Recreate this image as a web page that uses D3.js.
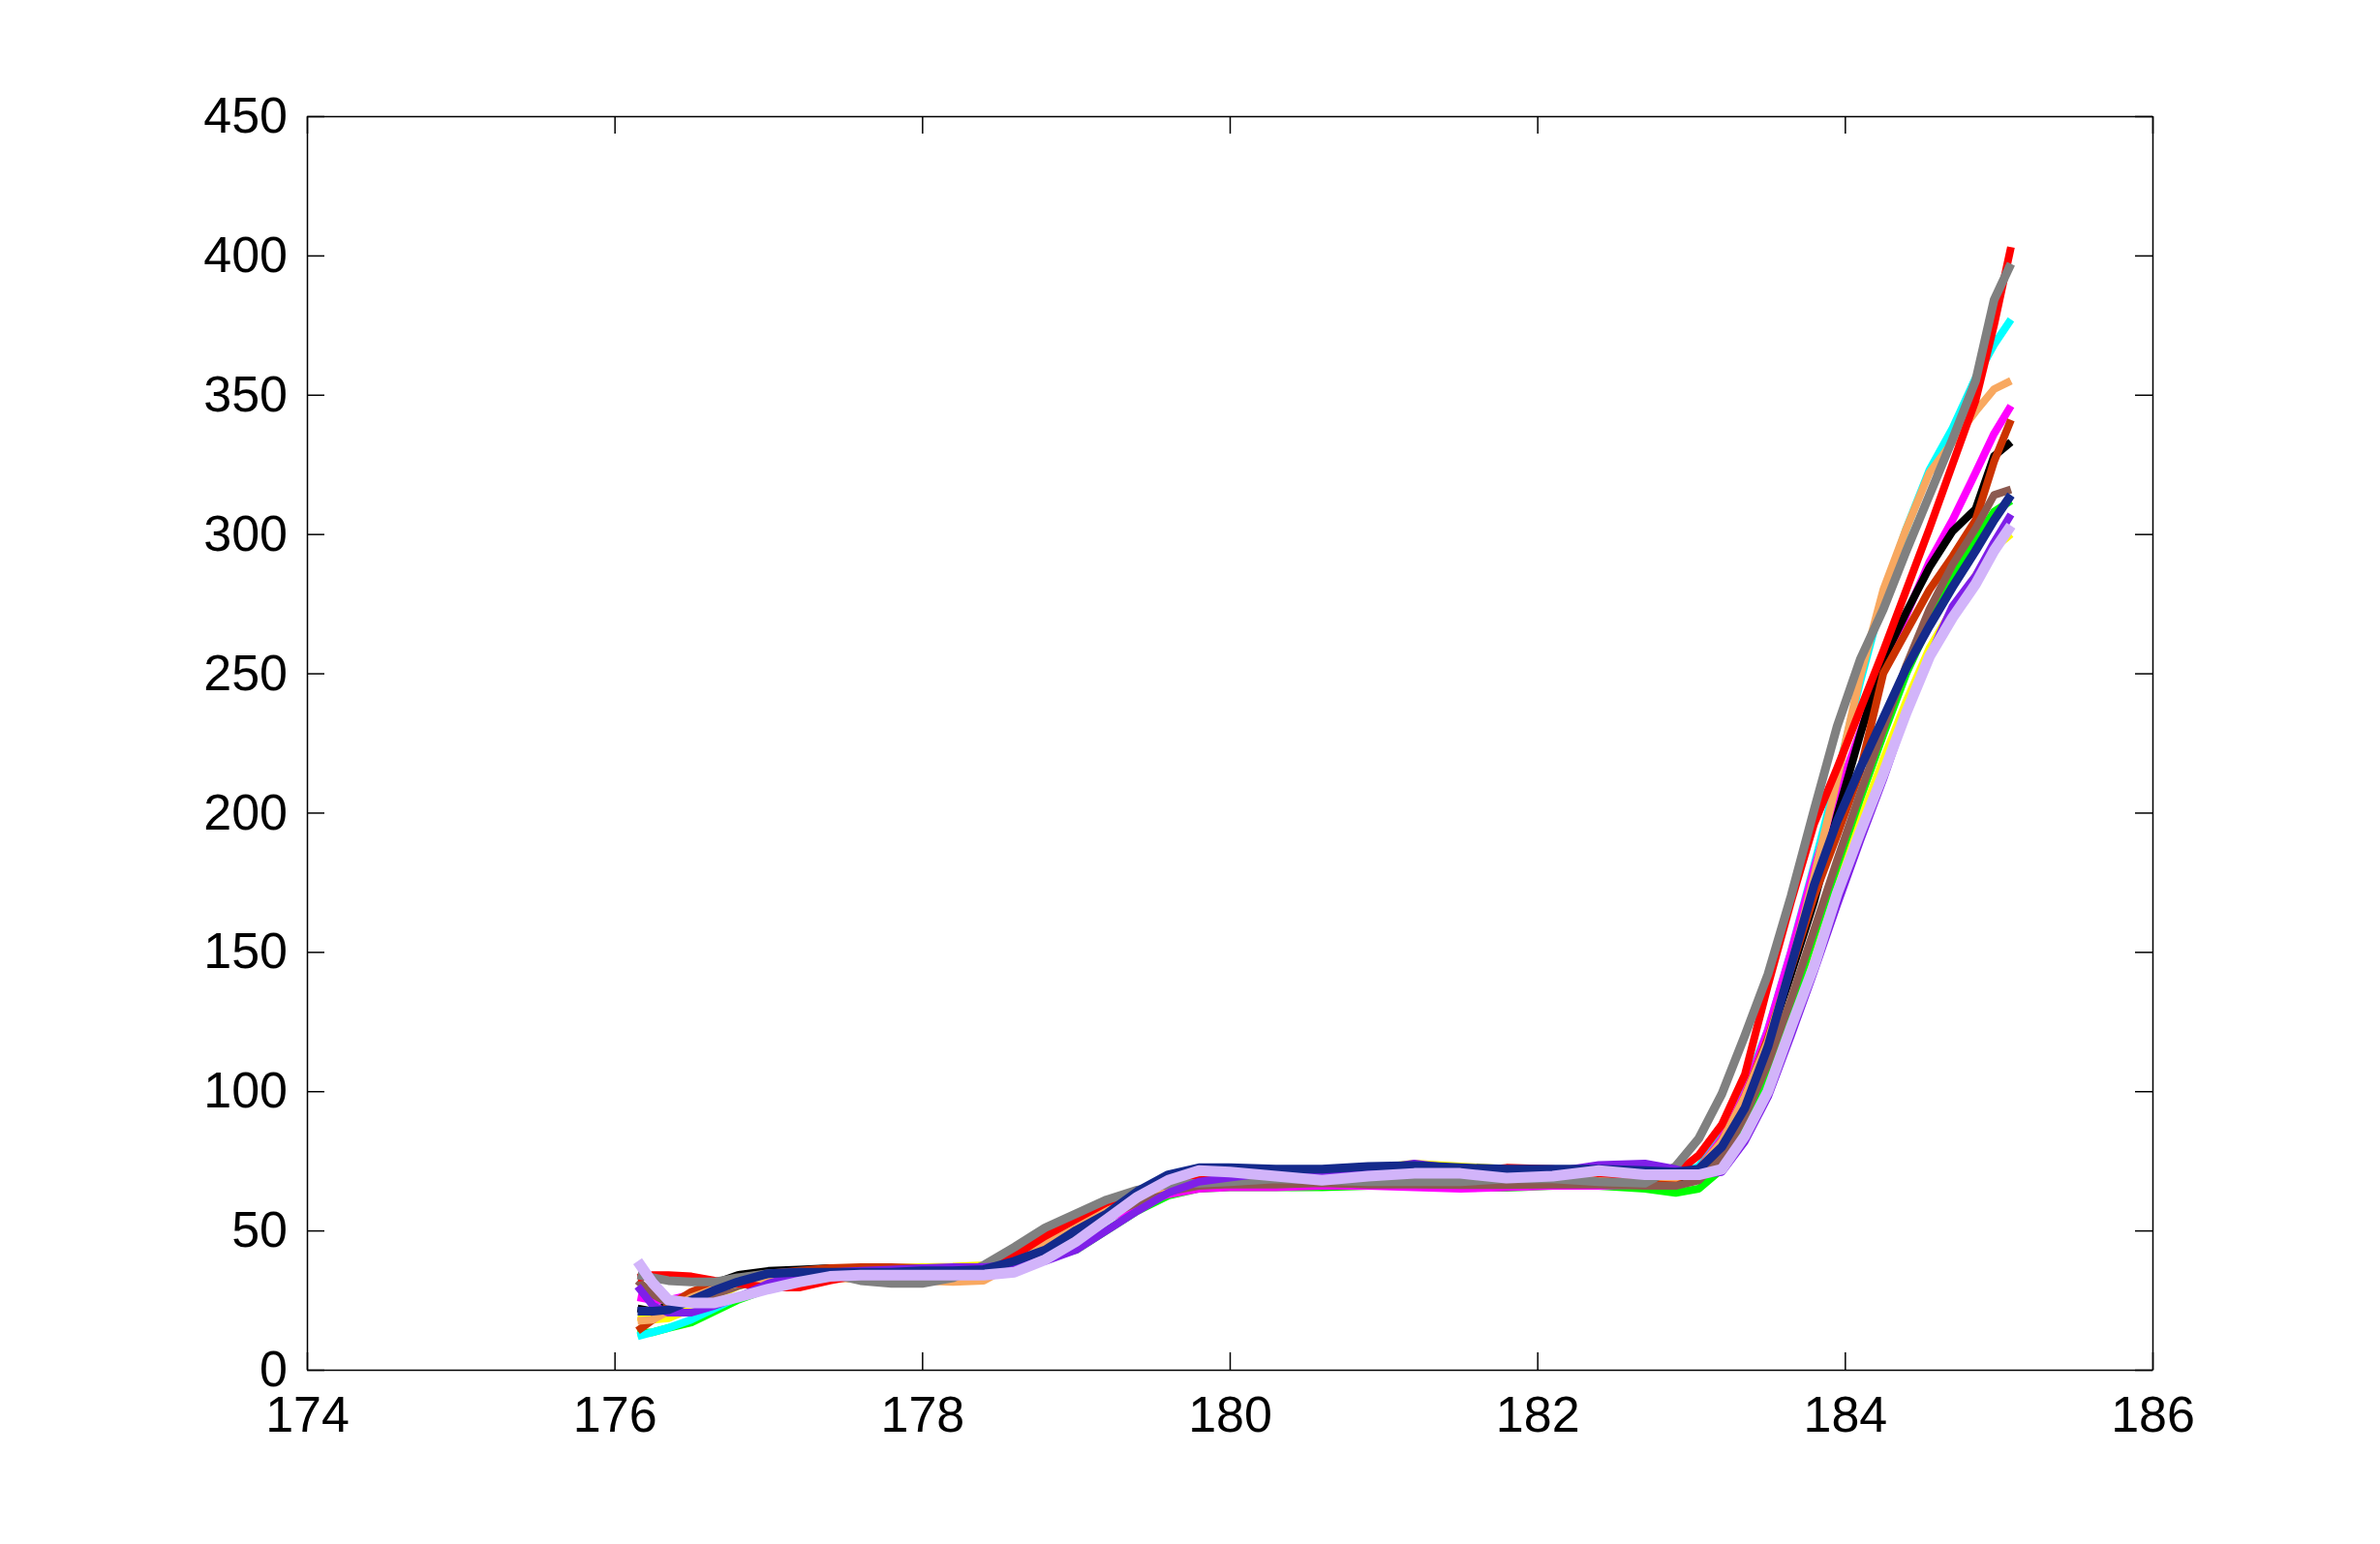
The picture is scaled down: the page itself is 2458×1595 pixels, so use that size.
<!DOCTYPE html>
<html>
<head>
<meta charset="utf-8">
<script src="https://cdn.jsdelivr.net/npm/d3@7"></script>
<style>
  html, body { margin: 0; padding: 0; background: #fff; }
  svg { display: block; }
  .axis text { font-family: "Liberation Sans", Arial, sans-serif; font-size: 52px; fill: #000; }
  .axis path, .axis line { stroke: #000; stroke-width: 1.5px; }
</style>
</head>
<body>
<svg id="chart"></svg>
<script>
// shared x grid
const xs = [176.15, 176.25, 176.35, 176.5, 176.65, 176.8, 177.0, 177.2, 177.4, 177.6,
            177.8, 178.0, 178.2, 178.4, 178.6, 178.8, 179.0, 179.2, 179.4, 179.6,
            179.8, 180.0, 180.3, 180.6, 180.9, 181.2, 181.5, 181.8, 182.1, 182.4,
            182.7, 182.9, 183.05, 183.2, 183.35, 183.5, 183.65, 183.8, 183.95, 184.1,
            184.25, 184.4, 184.55, 184.7, 184.85, 184.97, 185.08];

const xTicks = [174, 176, 178, 180, 182, 184, 186];
const yTicks = [0, 50, 100, 150, 200, 250, 300, 350, 400, 450];

// series values, drawn in this order (last on top)
const yellow = [19, 18, 18.5, 22, 26, 30, 33, 34.5, 35, 35.5, 36.5, 36.8, 37, 37.5, 39, 42, 47, 54, 61, 66.5,
                69.5, 70.5, 70.5, 71, 72, 74, 73, 72, 71, 70.5, 70, 69.5, 70, 75, 88, 106, 130, 151, 175, 197,
                219, 240, 259, 273, 285, 295, 300];
const green = [13, 13.5, 15, 17, 21, 25, 29, 32, 33.5, 34, 34, 34, 34, 34.5, 36.5, 40, 43, 50, 57, 62.5,
               65, 65.5, 65.5, 65.5, 66, 66.5, 65.5, 65.3, 66, 66, 65, 63.5, 65, 72, 86, 106, 130, 156, 181, 205,
               228, 250, 268, 284, 298, 308, 312];
const cyan = [12, 13.5, 15, 18, 22, 26, 31, 35, 36.5, 36, 35, 34.5, 34.5, 35, 40, 46, 52, 58, 63, 66,
              68, 69, 69.5, 69.5, 69.5, 69.5, 69.5, 70, 70, 69.5, 69.5, 69.5, 73, 84, 101, 122, 150, 181, 213, 247,
              278, 302, 323, 338, 356, 368, 377];
const magenta = [26, 25, 25, 27, 30, 32, 33.5, 34, 34, 34, 34, 34, 34, 34.5, 37, 42, 48, 54, 59, 63,
                 65, 65.5, 65.5, 66, 66, 65.5, 65, 65.5, 66, 66, 66.5, 67, 72, 83, 99, 122, 150, 180, 206, 229,
                 252, 271, 290, 305, 322, 336, 346];
const black = [22, 21, 23, 27, 31, 34, 35.5, 36, 36.5, 36.5, 36, 35.5, 35, 35.5, 38, 44, 50, 56, 61, 65,
               67.5, 69, 69, 69, 69, 69, 69, 69, 69, 68, 67, 67.5, 71, 80, 96, 117, 142, 168, 199, 228,
               255, 272, 288, 301, 309, 328, 333];
const orangeRed = [14, 18, 23, 28, 31, 33, 34.5, 35.5, 36.5, 36.8, 36.8, 36.5, 35.5, 35.5, 39, 45, 51, 57, 62, 65.5,
                   67, 68, 68.5, 68.5, 68.5, 68.5, 68.5, 68.5, 68.5, 68, 68, 68.5, 72, 82, 98, 119, 144, 170, 192, 215,
                   250, 265, 280, 292, 305, 326, 341];
const brown = [32, 27, 24, 24, 27, 30, 33, 34.5, 35, 35, 35, 34.5, 34.5, 35, 38, 43, 49, 55, 60, 64,
               66, 66.5, 66.5, 67, 66.5, 66.5, 66.3, 66.3, 66.5, 66.5, 66, 66, 68, 76, 91, 110, 133, 158, 183, 207,
               230, 253, 273, 289, 302, 314, 316];
const sandy = [17.5, 18, 21, 26, 29, 31, 32.5, 33, 33, 32.5, 32, 32, 31.5, 32, 38, 45, 51, 58, 63, 66,
               68, 70, 71, 70.5, 70, 70, 70.5, 70, 70, 69.5, 69.5, 69, 72, 82, 98, 118, 145, 177, 212, 249,
               280, 302, 322, 333, 344, 352, 355];
const red = [33, 34, 34, 33.5, 32, 31, 29.5, 29.5, 32, 34, 34.5, 35, 35, 36, 41, 48, 54, 60, 64, 66.5,
             68, 69, 69.5, 70, 70, 70.5, 71, 72.5, 72, 70.5, 69.5, 70.5, 77, 88, 106, 138, 168, 196, 216, 237,
             258, 280, 302, 325, 348, 375, 403];
const gray = [34, 33, 32, 31.5, 31.5, 33, 34.5, 35, 34.5, 32, 31, 31, 33, 37.5, 44, 51, 56, 61, 64.5, 66.5,
              67, 67.5, 68.5, 68, 67.5, 67.5, 67.5, 68.5, 68.5, 67.5, 67, 73, 83, 99, 120, 142, 170, 201, 231, 255,
              273, 294, 314, 334, 355, 384, 397];
const purple = [30, 23, 20.5, 20.5, 23, 26, 31, 34, 35, 35.5, 36, 36.5, 36.8, 36.8, 37.5, 39, 43, 50, 57, 63.5,
                67.5, 69, 71, 71, 71.5, 74, 72, 71, 71, 73.5, 74, 72, 70, 71, 82, 98, 120, 143, 167, 190,
                212, 236, 256, 274, 285, 297, 307];
const navy = [21, 21, 21.5, 25, 28.5, 31.5, 34.5, 35, 35, 35, 35, 35.5, 35.5, 36, 39, 43, 50, 56, 64, 70,
              72.5, 72.5, 72, 72, 73, 73.3, 72.5, 72, 72, 72, 71.5, 71, 72, 80, 94, 116, 145, 174, 197, 216,
              234, 252, 267, 281, 294, 305, 314];
const lavender = [39, 31, 25, 24, 24, 26, 29, 31.5, 33.5, 34, 34, 34, 34, 34, 35, 39.5, 46, 54, 62, 68,
                  71.5, 71, 69.5, 68, 69.5, 70.5, 70.5, 68.8, 69.5, 71.5, 70, 70, 70, 72, 84, 100, 123, 145, 171, 193,
                  214, 236, 256, 270, 282, 294, 303];

const seriesList = [
  { values: yellow,    color: "#ffff00", width: 8 },
  { values: green,     color: "#00ff00", width: 8 },
  { values: cyan,      color: "#00ffff", width: 8 },
  { values: magenta,   color: "#ff00ff", width: 8 },
  { values: black,     color: "#000000", width: 8 },
  { values: orangeRed, color: "#cc3300", width: 8 },
  { values: brown,     color: "#8c5a50", width: 8 },
  { values: sandy,     color: "#f8a860", width: 8 },
  { values: red,       color: "#ff0000", width: 8 },
  { values: gray,      color: "#808080", width: 9 },
  { values: purple,    color: "#7f1fe8", width: 8 },
  { values: navy,      color: "#142a8c", width: 9 },
  { values: lavender,  color: "#d2b4fa", width: 11 }
];

const W = 2458, H = 1595;
const margin = { top: 120, right: 235, bottom: 180, left: 317 };

const svg = d3.select("#chart").attr("width", W).attr("height", H);

const x = d3.scaleLinear().domain([174, 186]).range([margin.left, W - margin.right]);
const y = d3.scaleLinear().domain([0, 450]).range([H - margin.bottom, margin.top]);

// lines
const line = d3.line()
  .x((d, i) => x(xs[i]))
  .y(d => y(d));

svg.append("g")
  .selectAll("path")
  .data(seriesList)
  .join("path")
    .attr("d", d => line(d.values))
    .attr("fill", "none")
    .attr("stroke", d => d.color)
    .attr("stroke-width", d => d.width)
    .attr("stroke-linejoin", "round");

// box axes, ticks pointing inward
const tick = 18;
svg.append("g").attr("class", "axis")
  .attr("transform", `translate(0,${y(0)})`)
  .call(d3.axisBottom(x).tickValues(xTicks).tickSizeInner(-tick).tickSizeOuter(0).tickPadding(27).tickFormat(d3.format("d")));

svg.append("g").attr("class", "axis")
  .attr("transform", `translate(${x(174)},0)`)
  .call(d3.axisLeft(y).tickValues(yTicks).tickSizeInner(-tick).tickSizeOuter(0).tickPadding(20).tickFormat(d3.format("d")));

svg.append("g").attr("class", "axis")
  .attr("transform", `translate(0,${y(450)})`)
  .call(d3.axisTop(x).tickValues(xTicks).tickSizeInner(-tick).tickSizeOuter(0).tickFormat(""));

svg.append("g").attr("class", "axis")
  .attr("transform", `translate(${x(186)},0)`)
  .call(d3.axisRight(y).tickValues(yTicks).tickSizeInner(-tick).tickSizeOuter(0).tickFormat(""));

svg.selectAll(".axis").attr("font-family", null).attr("font-size", null);
</script>
</body>
</html>
